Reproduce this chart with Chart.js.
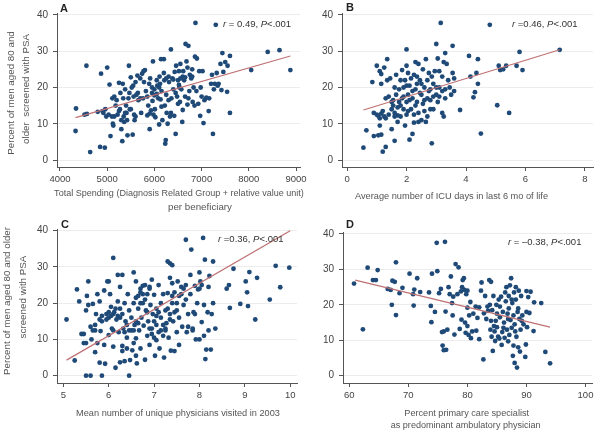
<!DOCTYPE html>
<html>
<head>
<meta charset="utf-8">
<script src="https://cdn.jsdelivr.net/npm/chart.js@4.4.1/dist/chart.umd.min.js"></script>
<style>
  body { margin: 0; background: #fff; }
  .panel { position: absolute; }
</style>
</head>
<body>
<div class="panel" style="left:0;top:0"><canvas id="chartA" width="312" height="217"></canvas></div>
<div class="panel" style="left:300px;top:0"><canvas id="chartB" width="302" height="217"></canvas></div>
<div class="panel" style="left:0;top:215px"><canvas id="chartC" width="301" height="219"></canvas></div>
<div class="panel" style="left:300px;top:215px"><canvas id="chartD" width="302" height="219"></canvas></div>
<script>
// Panel A: spending per beneficiary vs % screened
const spendPoints = [
  [4330,8],[4340,14.2],[4520,12.5],[4560,26],[4570,12.7],[4640,2.2],[4800,13.3],[4850,3.6],[4870,23.8],
  [4900,13.5],[4920,13],[4950,3.4],[4960,14],[5000,25.5],[4980,12],[5030,12.5],[5050,20.8],[5070,6.6],
  [5100,12],[5110,17],[5120,10],[5130,9.5],[5150,17.5],[5200,16.5],[5220,12.5],[5250,21.3],[5270,14],
  [5280,18.5],[5300,8.5],[5300,11],[5320,5.2],[5330,21],[5340,17],[5350,12],[5360,10.5],[5380,19.5],
  [5400,15],[5410,13],[5420,11],[5430,6.8],[5460,26],[5470,18.5],[5480,14],[5500,22.8],[5520,20],
  [5540,7],[5560,17.5],[5570,12.5],[5580,11],[5600,21.5],[5620,18],[5640,23.3],[5660,16.5],[5700,22.5],
  [5720,13],[5740,23.8],[5760,17],[5770,24.5],[5800,24.8],[5820,19],[5850,12.3],[5870,15],[5890,21],
  [5900,8.5],[5910,22.5],[5930,13.7],[5950,18.5],[5960,16.3],[5970,27.2],[5980,12.5],[6000,19.5],
  [6010,14],[6020,11.8],[6050,22],[6060,20.5],[6080,17],[6100,9.8],[6110,23],[6120,21],[6130,16.7],
  [6140,27.8],[6150,19],[6170,11],[6200,27.8],[6200,24],[6210,22],[6220,15],[6230,4.5],[6240,5.5],
  [6250,18],[6260,13],[6280,10],[6300,23],[6310,21.5],[6330,12],[6350,30.5],[6360,17],[6380,22.5],
  [6400,19.5],[6420,12.2],[6430,24.3],[6450,7.2],[6460,26],[6480,17.5],[6500,22],[6520,24.5],[6530,20],
  [6540,16],[6550,26.5],[6570,19.5],[6590,10.5],[6600,23],[6610,24.5],[6630,22],[6650,17.5],[6660,32],
  [6680,27.2],[6700,15.3],[6720,31.5],[6740,19],[6750,23.5],[6780,22.5],[6800,25],[6810,16],[6830,20],
  [6860,28.5],[6870,37.8],[6890,19],[6900,28],[6930,15.5],[6950,24.5],[6970,12.2],[6980,20],[7000,17.5],
  [7020,24.5],[7040,10.2],[7060,16.5],[7100,17.2],[7150,13.5],[7160,17],[7200,21],[7220,23.5],[7240,7.2],
  [7260,19.5],[7280,21],[7300,37.3],[7320,24],[7340,20.5],[7360,21],[7400,26.5],[7420,19.3],[7440,29.5],
  [7460,24.3],[7500,27],[7540,18.8],[7550,26],[7600,13],[7600,28.7],[8050,24.8],[8400,29.8],[8650,30.3],
  [8880,24.8],
  [5150,12],[5180,15],[5250,13.5],[5380,13],[5450,17],[5500,14],[5550,20.5],[5600,12],[5650,18.5],
  [5700,17],[5780,21.5],[5850,17.5],[5900,12.8],[5950,20],[6000,17.8],[6050,18.2],[6100,20],[6150,14.7],
  [6250,22.5],[6300,16.5],[6350,13],[6400,22.2],[6450,18.5],[6500,15.5],[6520,20.7],[6550,22.5],
  [6600,13.8],[6650,22.8],[6700,25.5],[6720,17],[6800,23],[6850,15]
];
const spendFit = [[4330,11.7],[8880,28.7]];
const spendTicks = [4000,5000,6000,7000,8000,9000];

// Panel B: ICU days vs % screened
const icuPoints = [
  [0.55,3.4],[0.65,8.2],[0.85,21.5],[0.9,13],[0.9,6.6],[1.0,26],[1.0,12.5],[1.05,6.8],[1.1,24.5],
  [1.1,11.5],[1.1,9.5],[1.15,7],[1.15,23.7],[1.15,21],[1.2,2.3],[1.2,13.5],[1.25,12],[1.25,25.5],
  [1.3,3.6],[1.3,17],[1.35,22],[1.35,27.8],[1.4,17.5],[1.4,12.5],[1.45,22.5],[1.5,8.5],[1.5,16],
  [1.55,15],[1.6,20],[1.6,5.3],[1.6,13],[1.65,23.5],[1.65,18],[1.7,10.5],[1.7,14.5],[1.75,16],[1.8,22],
  [1.8,12],[1.85,24.8],[1.85,17],[1.9,20],[1.9,14],[1.95,9.5],[1.95,22],[2.0,30.5],[2.0,26],[2.0,12.5],
  [2.0,16],[2.05,18],[2.05,24],[2.1,5.6],[2.1,20.5],[2.15,14],[2.15,22.5],[2.2,7.2],[2.2,17],[2.25,23.5],
  [2.25,12.5],[2.3,19.5],[2.3,27],[2.35,16],[2.35,21],[2.4,13],[2.4,26.5],[2.45,22],[2.5,18],[2.5,11],
  [2.55,25],[2.55,15.5],[2.6,20],[2.6,13.5],[2.65,27.8],[2.65,10.5],[2.7,17],[2.7,22],[2.75,24],
  [2.8,19.5],[2.8,14],[2.85,4.6],[2.85,23],[2.9,17.5],[2.9,21],[2.95,24.5],[3.0,32],[3.0,18],[3.05,28],
  [3.05,16],[3.1,20],[3.1,24.5],[3.15,37.8],[3.2,23],[3.2,13],[3.25,12],[3.25,27],[3.3,29.5],[3.3,19.5],
  [3.35,26.5],[3.4,22],[3.5,18],[3.55,31.5],[3.55,24],[3.6,22.5],[3.6,19],[3.8,13.8],[4.1,28.7],
  [4.15,23],[4.25,17.3],[4.3,18.7],[4.35,24],[4.4,27.8],[4.4,21],[4.5,7.3],[4.8,37.3],[5.05,15.1],
  [5.1,26],[5.15,24.8],[5.25,25],[5.35,26],[5.45,13],[5.7,26],[5.8,29.8],[5.9,24.8],[7.15,30.4],
  [1.05,12.2],[1.15,12.8],[1.3,11.5],[1.5,14],[1.55,16.5],[1.7,12.3],[1.75,19.5],[1.8,15],[1.9,17.5],
  [2.0,20.5],[2.1,16.5],[2.2,19],[2.3,15],[2.35,23],[2.45,18.5],[2.5,21],[2.6,16.5],[2.7,12],[2.75,19],
  [2.8,16.5],[2.9,14],[3.0,20],[3.1,17.5],[3.2,19],[3.3,17],[3.45,20],[2.4,10.5],[2.05,13.5],[1.6,12],
  [2.25,10.3]
];
const icuFit = [[0.55,13.8],[7.15,30.4]];
const icuTicks = [0,2,4,6,8];

// Panel C: unique physicians vs % screened
const physPoints = [
  [5.07,15.5],[5.25,4.2],[5.3,23.8],[5.35,20.5],[5.4,11.5],[5.45,9],[5.5,18],[5.5,0],[5.52,22],[5.55,26],
  [5.55,19.5],[5.6,13.5],[5.6,0],[5.62,10],[5.65,19.8],[5.7,12.5],[5.7,6.5],[5.72,17],[5.75,22.5],[5.75,9],
  [5.8,20.5],[5.8,3.6],[5.82,12.3],[5.85,0],[5.85,15],[5.9,23.5],[5.9,8.5],[5.92,3.3],[5.95,17],[5.97,26],
  [6.0,26],[6.0,16],[6.0,11.2],[6.03,22.5],[6.05,19],[6.07,13],[6.1,32.5],[6.1,8],[6.12,17.5],[6.15,2.2],
  [6.17,15.5],[6.2,27.8],[6.2,20.5],[6.22,12],[6.25,3.7],[6.25,24.5],[6.3,27.8],[6.3,17],[6.3,8.2],
  [6.32,13],[6.35,20],[6.37,15],[6.4,10.5],[6.42,22.5],[6.45,0],[6.45,18],[6.47,4.3],[6.5,12.5],[6.5,16],
  [6.52,7],[6.55,28.5],[6.55,20],[6.57,14],[6.6,26],[6.6,10.3],[6.62,3.4],[6.65,22],[6.65,18.5],
  [6.67,12.5],[6.7,24],[6.7,7.5],[6.72,16],[6.75,20],[6.77,13.8],[6.8,25],[6.8,4.4],[6.82,18],[6.85,22.5],
  [6.85,11],[6.87,15],[6.9,8.5],[6.9,24.5],[6.92,19.5],[6.95,26.5],[6.95,13],[6.97,17],[7.0,22.3],
  [7.0,10.5],[7.02,5.5],[7.05,18.5],[7.05,14],[7.1,25],[7.1,12],[7.12,7.5],[7.15,20],[7.15,16],[7.2,22.5],
  [7.2,11],[7.22,5],[7.25,18],[7.27,14.5],[7.3,31.5],[7.3,22.8],[7.32,10.5],[7.35,27],[7.35,17],[7.37,6.9],
  [7.4,25.5],[7.4,20],[7.42,15],[7.45,23],[7.45,6.8],[7.5,18],[7.5,12],[7.52,26],[7.55,22],[7.55,8.5],
  [7.6,24.5],[7.62,13.5],[7.65,19.5],[7.7,37.5],[7.7,25],[7.72,12],[7.75,17],[7.8,27.8],[7.8,22.5],
  [7.82,34.8],[7.85,13],[7.87,17.5],[7.9,24.8],[7.92,10],[7.95,20],[7.97,23.8],[8.0,28.5],[8.0,10],
  [8.02,26],[8.05,14.8],[8.08,38],[8.1,19.5],[8.1,11],[8.12,32],[8.13,4.6],[8.15,7.2],[8.18,17.5],
  [8.2,24.5],[8.2,12.5],[8.22,27.5],[8.25,7.2],[8.27,17],[8.3,31.5],[8.3,20],[8.35,13],[8.6,24],[8.65,25],
  [8.67,18.7],[8.75,29.5],[8.9,19.8],[9.02,26],[9.05,23],[9.07,19.2],[9.1,28.6],[9.23,15.5],[9.27,27],
  [9.55,21],[9.68,30.3],[9.78,24.4],[9.98,29.8],
  [6.05,16.5],[6.1,17],[6.15,18.5],[6.25,16],[6.35,12],[6.4,14],[6.45,12.5],[6.55,9],[6.6,15],[6.65,14.5],
  [6.7,20],[6.75,22.5],[6.8,21],[6.85,17.5],[6.9,13],[6.95,11.5],[7.0,15],[7.05,16.5],[7.1,17.5],
  [7.15,12.5],[7.2,14],[7.25,13],[7.3,18.5],[7.35,15.5],[7.4,22],[7.45,17.5],[7.5,20],[7.55,16],[7.6,22.5],
  [7.65,24],[7.7,21],[7.75,13.5],[7.85,12.5],[7.9,17],[8.0,24],[8.05,25],[7.4,30.5],[7.35,31],[6.9,24],
  [6.7,23],[6.75,24.8],[6.6,21.5],[6.55,12.5],[6.2,16.5],[6.25,18.5],[6.0,17.5],[5.95,15.5],[5.85,16.5],
  [5.8,15.5],[6.1,12.5],[6.3,6.8],[6.35,4],[6.4,7.5],[5.7,14],[5.65,12.5],[5.5,9],[5.45,11.5],[6.6,5.5],
  [7.05,9.8],[7.25,12.5]
];
const physFit = [[5.07,4.3],[10,40]];
const physTicks = [5,6,7,8,9,10];

// Panel D: % primary care specialist vs % screened
const pcpPoints = [
  [60.8,26],[62.3,13.1],[63.1,30.5],[64,27],[64.5,27],[64.8,29.8],[66.5,24.5],[67,24.2],[67.2,20],
  [67.3,26.8],[67.7,26.5],[67.9,17.1],[67.9,32],[68.5,23.3],[69,24.8],[70.2,28.8],[70.8,23],[70.9,19.8],
  [71,24.3],[71.5,27.5],[72,23.6],[73.5,23.5],[73.8,19.7],[73.9,15.1],[74,28.8],[74.5,18],[74.8,37.5],
  [74.9,29.5],[75.2,23.3],[75.5,24.5],[75.7,12.3],[75.8,8.5],[76,12.5],[76,7.2],[76.2,37.8],[76.3,18.1],
  [76.4,7.3],[76.6,13],[76.8,25],[77,23],[77.2,28],[77.4,20.5],[77.5,17],[77.6,22.3],[77.8,11.6],[78,31.5],
  [78.3,23],[78.5,30.6],[78.7,13.2],[78.9,23.8],[79,15.8],[79.1,25],[79.2,27],[79.4,27.5],[79.5,24.2],
  [79.6,15],[79.7,12.1],[79.8,23],[80,24],[80,19.2],[80,14],[80.2,11.5],[80.3,17],[80.5,20.8],[80.6,10.6],
  [80.8,12.5],[81,17.5],[81.4,19.5],[81.5,12.7],[81.7,16.3],[82,19.3],[82,10.3],[82.3,24],[82.4,26.3],
  [82.7,4.6],[82.8,17.6],[83,22.5],[83.2,16],[83.4,19.5],[83.5,18.3],[83.7,27],[83.8,20],[84,26.5],
  [84,15.5],[84.1,11],[84.2,18.5],[84.3,7],[84.4,22.5],[84.5,14],[84.6,12.5],[84.7,9.8],[84.9,20],
  [85,17.5],[85,13.7],[85.2,11],[85.3,21.5],[85.5,16.5],[85.7,22.3],[85.8,8.7],[85.9,12.3],[86,18],
  [86.2,15],[86.3,10.7],[86.5,21],[86.6,25],[86.7,13],[86.8,17.5],[86.9,9.7],[87,22.5],[87,19],[87.1,11.5],
  [87.2,25.5],[87.3,15.7],[87.4,27.5],[87.5,13.5],[87.6,20.5],[87.7,5.6],[87.8,17],[87.9,23.5],[88,14.5],
  [88,3.6],[88.2,21.5],[88.3,11],[88.4,2.3],[88.5,18],[88.6,8],[88.7,24],[88.8,16],[88.9,6.8],[89,13],
  [89.1,22.5],[89.3,17],[89.5,14.5],[89.8,5.3],[89.9,8.8],[90,18],[90,23.9],[90.1,13.7],[90.3,22.2],
  [90.5,17.7],[90.7,23.7],[91.2,12.6],[91.3,20.7],[92.5,20.5],[93.2,6.7],[94,3.5],
  [84.8,15.5],[85.5,19.5],[86.1,13.5],[86.9,16],[87.5,21.5],[88.1,12.5],[88.6,19],[89.2,15.5],[83.9,13],
  [85.4,10.5],[86.4,23.5],[87.8,8.5],[88.2,25]
];
const pcpFit = [[61,27],[94,13.7]];
const pcpTicks = [60,70,80,90,100];

const yTicks = [0,10,20,30,40];

Chart.defaults.font.family = '"Liberation Sans", Arial, sans-serif';
Chart.defaults.color = '#444';

const fontFam = '"Liberation Sans", Arial, sans-serif';
const dotColor = '#1f4a78';
const lineColor = '#bf7173';

// letter, r/P text and axis titles drawn on each panel
// x titles are fitted to the width they take in the original, y titles use a set size
const panelText = {
  id: 'panelText',
  afterDraw(chart, args, opts) {
    const ctx = chart.ctx;
    ctx.save();
    ctx.textBaseline = 'middle';
    ctx.textAlign = 'left';
    ctx.fillStyle = '#222';
    ctx.font = 'bold 11px ' + fontFam;
    ctx.fillText(opts.letter, opts.lx, opts.ly);

    let x = opts.sx;
    ctx.fillStyle = '#333';
    opts.stat.forEach(part => {
      ctx.font = (part.italic ? 'italic ' : '') + '9.5px ' + fontFam;
      ctx.fillText(part.t, x, opts.sy);
      x += ctx.measureText(part.t).width;
    });

    ctx.fillStyle = '#555';
    ctx.textAlign = 'center';
    opts.titles.forEach(t => {
      let size = t.size;
      if (!size) {
        ctx.font = '10px ' + fontFam;
        size = 10 * t.w / ctx.measureText(t.text).width;
      }
      ctx.font = size.toFixed(2) + 'px ' + fontFam;
      ctx.save();
      ctx.translate(t.x, t.y);
      if (t.rot) ctx.rotate(-Math.PI / 2);
      ctx.fillText(t.text, 0, 0);
      ctx.restore();
    });
    ctx.restore();
  }
};

function toXY(arr) {
  return arr.map(p => ({ x: p[0], y: p[1] }));
}

function makePanel(id, cfg) {
  new Chart(document.getElementById(id), {
    type: 'scatter',
    data: {
      datasets: [
        {
          type: 'line',
          data: toXY(cfg.fit),
          borderColor: lineColor,
          borderWidth: 1.2,
          pointRadius: 0,
          fill: false
        },
        {
          data: toXY(cfg.points),
          backgroundColor: dotColor,
          borderColor: dotColor,
          borderWidth: 0,
          pointRadius: 2.4
        }
      ]
    },
    options: {
      responsive: false,
      animation: false,
      layout: { padding: { top: cfg.top, right: cfg.right, left: 0, bottom: 0 } },
      plugins: {
        legend: { display: false },
        tooltip: { enabled: false },
        panelText: cfg.text
      },
      scales: {
        x: {
          type: 'linear',
          min: cfg.xMin,
          max: cfg.xMax,
          afterBuildTicks: s => { s.ticks = cfg.xTicks.map(v => ({ value: v })); },
          afterFit: s => { s.height = cfg.xHeight; },
          ticks: { callback: v => String(v), font: { size: 9.5 }, color: '#444', padding: 3, maxRotation: 0 },
          grid: { drawOnChartArea: false, tickColor: '#555', tickLength: 4 },
          border: { color: '#555', width: 1 }
        },
        y: {
          min: cfg.yMin,
          max: cfg.yMax,
          afterBuildTicks: s => { s.ticks = yTicks.map(v => ({ value: v })); },
          afterFit: s => { s.width = cfg.yWidth; },
          ticks: { callback: v => String(v), font: { size: 10 }, color: '#444', padding: 5 },
          grid: { color: '#ececec', tickColor: '#555', tickLength: 4 },
          border: { color: '#555', width: 1 }
        }
      }
    },
    plugins: [panelText]
  });
}

const statA = [{ t: 'r', italic: true }, { t: ' = 0.49, ' }, { t: 'P', italic: true }, { t: '<.001' }];
const statB = [{ t: 'r', italic: true }, { t: ' =0.46, ' }, { t: 'P', italic: true }, { t: '<.001' }];
const statC = [{ t: 'r', italic: true }, { t: ' =0.36, ' }, { t: 'P', italic: true }, { t: '<.001' }];
const statD = [{ t: 'r', italic: true }, { t: ' = \u20130.38, ' }, { t: 'P', italic: true }, { t: '<.001' }];

makePanel('chartA', {
  points: spendPoints, fit: spendFit, xTicks: spendTicks,
  xMin: 3937, xMax: 9084, yMin: -1.93, yMax: 40.55,
  top: 13, right: 12, yWidth: 57, xHeight: 50,
  text: {
    letter: 'A', lx: 60, ly: 9, stat: statA, sx: 223, sy: 24,
    titles: [
      { text: 'Total Spending (Diagnosis Related Group + relative value unit)', x: 179, y: 194, w: 250 },
      { text: 'per beneficiary', x: 200, y: 207, w: 64 },
      { text: 'Percent of men aged 80 and', x: 11.7, y: 93, size: 9.8, rot: true },
      { text: 'older  screened with PSA', x: 26.7, y: 89, size: 9.8, rot: true }
    ]
  }
});

makePanel('chartB', {
  points: icuPoints, fit: icuFit, xTicks: icuTicks,
  xMin: -0.17, xMax: 8.27, yMin: -1.93, yMax: 40.55,
  top: 13, right: 9, yWidth: 42, xHeight: 50,
  text: {
    letter: 'B', lx: 46, ly: 8, stat: statB, sx: 212, sy: 24,
    titles: [
      { text: 'Average number of ICU days in last 6 mo of life', x: 151.5, y: 196.7, w: 193 }
    ]
  }
});

makePanel('chartC', {
  points: physPoints, fit: physFit, xTicks: physTicks,
  xMin: 4.86, xMax: 10.15, yMin: -2.01, yMax: 40.47,
  top: 14, right: 1, yWidth: 57, xHeight: 51,
  text: {
    letter: 'C', lx: 61, ly: 9.5, stat: statC, sx: 218, sy: 24,
    titles: [
      { text: 'Mean number of unique physicians visited in 2003', x: 178, y: 198.3, w: 204 },
      { text: 'Percent of men aged 80 and older', x: 7.5, y: 86, size: 9.8, rot: true },
      { text: 'screened with PSA', x: 23.3, y: 82, size: 9.8, rot: true }
    ]
  }
});

makePanel('chartD', {
  points: pcpPoints, fit: pcpFit, xTicks: pcpTicks,
  xMin: 58.93, xMax: 101.1, yMin: -2.06, yMax: 40.56,
  top: 17, right: 10, yWidth: 43, xHeight: 51,
  text: {
    letter: 'D', lx: 46, ly: 9.5, stat: statD, sx: 208, sy: 27,
    titles: [
      { text: 'Percent primary care specialist', x: 166.7, y: 198.3, w: 125 },
      { text: 'as predominant ambulatory physician', x: 165.7, y: 210, w: 150 }
    ]
  }
});
</script>
</body>
</html>
